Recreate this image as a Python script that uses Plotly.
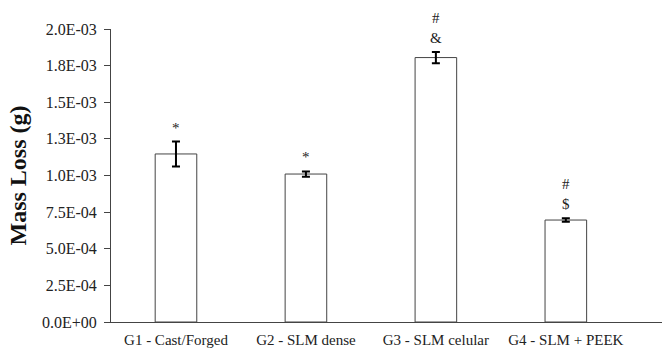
import plotly.graph_objects as go

categories = ["G1 - Cast/Forged", "G2 - SLM dense", "G3 - SLM celular", "G4 - SLM + PEEK"]
mass_loss = [1.147e-3, 1.010e-3, 1.805e-3, 0.696e-3]
errors = [0.085e-3, 0.018e-3, 0.038e-3, 0.012e-3]
marks = ["*", "*", "#<br>&", "#<br>$"]
tick_vals = [0, 2.5e-4, 5.0e-4, 7.5e-4, 1.0e-3, 1.25e-3, 1.5e-3, 1.75e-3, 2.0e-3]
tick_text = ["0.0E+00", "2.5E-04", "5.0E-04", "7.5E-04", "1.0E-03", "1.3E-03", "1.5E-03", "1.8E-03", "2.0E-03"]

font_family = "Liberation Serif"

fig = go.Figure()
fig.add_trace(go.Bar(
    x=categories, y=mass_loss,
    marker=dict(color="white", line=dict(color="#444444", width=1)),
    width=0.32,
    error_y=dict(type="data", array=errors, visible=True, color="black", thickness=2, width=4),
    showlegend=False,
))

for c, v, e, m in zip(categories, mass_loss, errors, marks):
    fig.add_annotation(x=c, y=v + e, text=m, showarrow=False, yanchor="bottom",
                       yshift=4, font=dict(family=font_family, size=15, color="#222222"))

fig.update_layout(
    width=662, height=348,
    margin=dict(l=111, r=0, t=29, b=26),
    paper_bgcolor="white", plot_bgcolor="white",
    font=dict(family=font_family, size=15, color="#222222"),
    yaxis2=dict(overlaying="y", side="left", matches="y", range=[0, 2.0e-3],
                tickvals=tick_vals, ticks="inside", ticklen=3, tickcolor="#444444",
                showticklabels=False, showgrid=False, zeroline=False, showline=False),
)
fig.update_xaxes(showline=True, linecolor="#444444", linewidth=1, ticks="", showgrid=False,
                 range=[-0.5, 3.74], automargin=False, ticklabelstandoff=4,
                 tickfont=dict(family=font_family, size=15, color="#222222"))
fig.layout.yaxis.update(showline=True, linecolor="#444444", linewidth=1, ticks="outside", ticklen=6,
                        tickcolor="#444444", showgrid=False, zeroline=False, range=[0, 2.0e-3],
                        tickvals=tick_vals, ticktext=tick_text, automargin=False, ticklabelstandoff=4,
                        tickfont=dict(family=font_family, size=16, color="#222222"),
                        title=dict(text="<b>Mass Loss (g)</b>",
                                   font=dict(family=font_family, size=24, color="#111111"), standoff=8))

fig.write_html("out.html", config={"displayModeBar": False},
               post_script="document.body.style.margin='0';document.body.style.padding='0';")
